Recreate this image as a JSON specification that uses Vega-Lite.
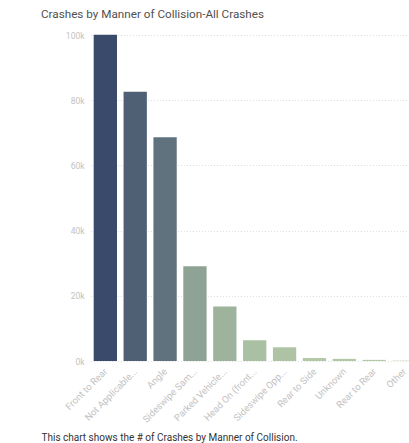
{
  "$schema": "https://vega.github.io/schema/vega-lite/v6.json",
  "autosize": {"type": "none"},
  "width": 321,
  "height": 326,
  "padding": {"left": 88, "top": 35, "right": 0, "bottom": 82},
  "background": "white",
  "title": {
    "text": "Crashes by Manner of Collision-All Crashes",
    "anchor": "start",
    "frame": "group",
    "dx": -47,
    "offset": 10,
    "font": "Roboto",
    "fontSize": 11.7,
    "fontWeight": "normal",
    "color": "#505050"
  },
  "data": {
    "values": [
      {"manner": "Front to Rear", "crashes": 100100},
      {"manner": "Not Applicable...", "crashes": 82600},
      {"manner": "Angle", "crashes": 68600},
      {"manner": "Sideswipe Sam...", "crashes": 29100},
      {"manner": "Parked Vehicle...", "crashes": 16700},
      {"manner": "Head On (front...", "crashes": 6400},
      {"manner": "Sideswipe Opp...", "crashes": 4200},
      {"manner": "Rear to Side", "crashes": 900},
      {"manner": "Unknown", "crashes": 650},
      {"manner": "Rear to Rear", "crashes": 350},
      {"manner": "Other", "crashes": 100}
    ]
  },
  "mark": {"type": "bar"},
  "encoding": {
    "x": {
      "field": "manner",
      "type": "nominal",
      "sort": null,
      "scale": {"range": [2.4, 331], "paddingInner": 0.22, "paddingOuter": 0.11},
      "axis": {
        "title": "This chart shows the # of Crashes by Manner of Collision.",
        "titleAnchor": "start",
        "titleAlign": "left",
        "titleBaseline": "middle",
        "titleX": -47,
        "titleY": 76,
        "titleFont": "Roboto",
        "titleFontSize": 10,
        "titleFontWeight": "normal",
        "titleColor": "#333333",
        "labelAngle": -45,
        "labelFont": "Roboto",
        "labelFontSize": 9.5,
        "labelColor": "#c2c2c2",
        "labelPadding": 5,
        "labelOffset": -3,
        "domain": false,
        "ticks": false,
        "labelLimit": 200
      }
    },
    "y": {
      "field": "crashes",
      "type": "quantitative",
      "scale": {"domain": [0, 100000], "nice": false},
      "axis": {
        "title": null,
        "values": [0, 20000, 40000, 60000, 80000, 100000],
        "format": "~s",
        "labelFont": "Roboto",
        "labelFontSize": 8.5,
        "labelColor": "#c2c2c2",
        "labelPadding": 4,
        "domain": false,
        "ticks": false,
        "grid": true,
        "gridColor": "#dddddd",
        "gridDash": [1, 2],
        "gridWidth": 1
      }
    },
    "color": {
      "field": "crashes",
      "type": "quantitative",
      "scale": {"domain": [0, 100000], "range": ["#b2c8a6", "#3a4a6b"], "interpolate": "rgb"},
      "legend": null
    }
  },
  "config": {"view": {"stroke": null}}
}
